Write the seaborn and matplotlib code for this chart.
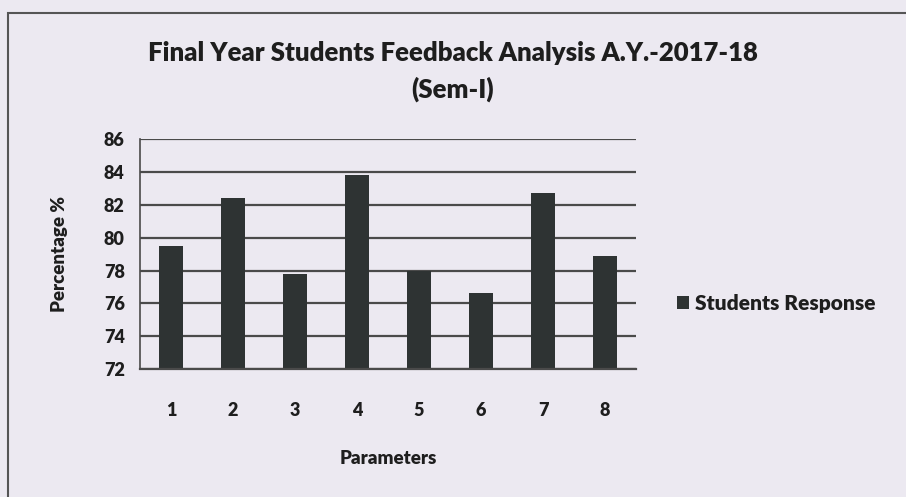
import matplotlib
matplotlib.use("Agg")
import matplotlib.pyplot as plt
import seaborn as sns
import pandas as pd
from matplotlib.patches import Rectangle

parameters = ["1", "2", "3", "4", "5", "6", "7", "8"]
response = [79.5, 82.4, 77.8, 83.8, 78.0, 76.6, 82.7, 78.9]
yticks = [72, 74, 76, 78, 80, 82, 84, 86]

BG = "#ece9f1"
BAR = "#2e3333"
GRID = "#4a4a4a"
TXT = "#1e1e1e"

sns.set_theme(style="white")
plt.rcParams['font.family'] = ['Lato', 'DejaVu Sans']
plt.rcParams['text.color'] = TXT

df = pd.DataFrame({"Parameters": parameters, "Students Response": response})

fig = plt.figure(figsize=(9.06, 4.97), dpi=100, facecolor=BG)
ax = fig.add_axes([0.1545, 0.2575, 0.5475, 0.4625])
ax.set_facecolor(BG)

sns.barplot(data=df, x="Parameters", y="Students Response", color=BAR,
            width=0.4, ax=ax, label="Students Response", saturation=1,
            linewidth=0)

ax.set_ylim(72, 86)
ax.set_yticks(yticks)
ax.yaxis.grid(True, color=GRID, linewidth=1.6)
ax.set_axisbelow(True)
for s in ["top", "right"]:
    ax.spines[s].set_visible(False)
ax.spines["left"].set_color(GRID)
ax.spines["left"].set_linewidth(1.2)
ax.spines["bottom"].set_color(GRID)
ax.spines["bottom"].set_linewidth(1.6)
ax.tick_params(axis="y", length=6, width=1.2, color=GRID, labelsize=13, pad=5, labelcolor=TXT)
ax.tick_params(axis="x", length=0, labelsize=13, pad=24, labelcolor=TXT)
for lab in ax.get_xticklabels() + ax.get_yticklabels():
    lab.set_fontweight("heavy")

ax.set_xlabel("Parameters", fontsize=13.5, fontweight="heavy", labelpad=22, color=TXT)
ax.set_ylabel("Percentage %", fontsize=13.5, fontweight="heavy", labelpad=26, color=TXT)

fig.text(0.5, 0.893, "Final Year Students Feedback Analysis A.Y.-2017-18",
         ha="center", va="center", fontsize=18.5, fontweight="heavy")
fig.text(0.5, 0.82, "(Sem-I)", ha="center", va="center", fontsize=18.5, fontweight="heavy")

leg = ax.legend(loc="center left", bbox_to_anchor=(1.045, 0.285), frameon=False,
                handlelength=0.55, handleheight=0.55, handletextpad=0.3,
                prop={"size": 15, "weight": "heavy"})

fig.patches.append(Rectangle((0.009, -0.1), 1.2, 0.074 + 0.1 + 0.9, transform=fig.transFigure,
                             fill=False, edgecolor="#555555", linewidth=1.5))

fig.savefig("out.png", dpi=100, facecolor=BG)
